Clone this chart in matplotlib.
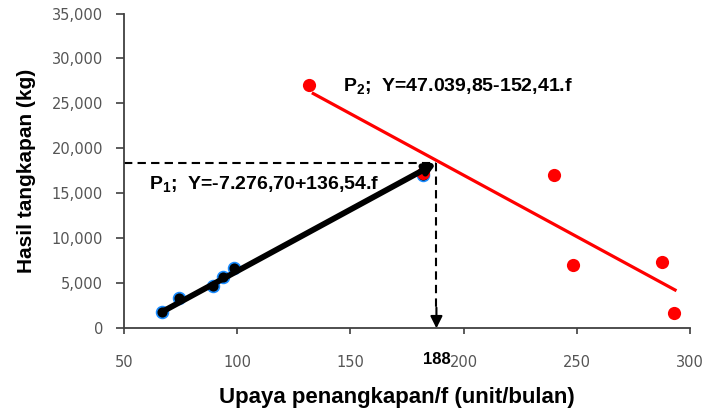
import matplotlib
matplotlib.use("Agg")
import matplotlib.pyplot as plt
from matplotlib.ticker import FuncFormatter
from matplotlib.transforms import ScaledTranslation

# ---- data ----
p1_effort = [66.6, 74.4, 89.2, 93.9, 98.7, 181.9]
p1_catch = [1850, 3350, 4650, 5700, 6750, 17050]

p2_effort = [131.8, 181.9, 240.1, 248.5, 287.5, 292.9]
p2_catch = [27100, 17300, 17030, 7030, 7330, 1670]

p1_line_f = [66.6, 188.0]
p1_line_y = [1800, 18390]

p2_line_f = [133.6, 293.4]
p2_line_y = [26100, 4260]

f_opt = 188.0
y_opt = 18390

x_ticks = [50, 100, 150, 200, 250, 300]
y_ticks = [0, 5000, 10000, 15000, 20000, 25000, 30000, 35000]

label_p1 = "P$_1$;  Y=-7.276,70+136,54.f"
label_p2 = "P$_2$;  Y=47.039,85-152,41.f"
xlabel = "Upaya penangkapan/f (unit/bulan)"
ylabel = "Hasil tangkapan (kg)"

plt.rcParams['font.family'] = ['Liberation Sans', 'DejaVu Sans']
plt.rcParams['mathtext.fontset'] = 'custom'
plt.rcParams['mathtext.rm'] = 'Liberation Sans:bold'
plt.rcParams['mathtext.it'] = 'Liberation Sans:bold'
plt.rcParams['mathtext.bf'] = 'Liberation Sans:bold'

W, H = 709, 413
fig = plt.figure(figsize=(W / 100, H / 100), dpi=100)
ax = fig.add_axes([124 / W, 1 - 328.3 / H, (690 - 124) / W, (328.3 - 13.5) / H])

ax.set_xlim(x_ticks[0], x_ticks[-1])
ax.set_ylim(y_ticks[0], y_ticks[-1])

# P1 series (blue markers under black arrow line)
ax.plot(p1_effort, p1_catch, 'o', ms=8.5, mfc='black', mec='#1a8cff', mew=1.2, zorder=3)
ax.annotate('', xy=(f_opt, y_opt), xytext=(p1_line_f[0], p1_line_y[0]),
            arrowprops=dict(arrowstyle='-|>', lw=4.2, color='black',
                            mutation_scale=15, shrinkA=0, shrinkB=0), zorder=4)

# P2 series
ax.plot(p2_line_f, p2_line_y, color='#ff0000', lw=2.3, zorder=2)
ax.plot(p2_effort, p2_catch, 'o', ms=9.5, color='#ff0000', mec='none', zorder=3.5)

# dashed guide lines
ax.plot([x_ticks[0], f_opt], [y_opt, y_opt], color='black', lw=1.5, dashes=(4, 2.5), zorder=2)
ax.plot([f_opt, f_opt], [y_opt, 2200], color='black', lw=1.5, dashes=(4, 2.5), zorder=2)
ax.annotate('', xy=(f_opt, 0), xytext=(f_opt, 2300),
            arrowprops=dict(arrowstyle='-|>', lw=1.5, color='black',
                            mutation_scale=18, shrinkA=0, shrinkB=0), zorder=4)


def px2data(px, py):
    fig.canvas.draw()
    return ax.transData.inverted().transform((px, H - py))


x2, y2 = px2data(343, 86)
ax.text(x2, y2, label_p2, fontsize=14, fontweight='bold', ha='left', va='center')
x1, y1 = px2data(149, 184)
ax.text(x1, y1, label_p1, fontsize=14, fontweight='bold', ha='left', va='center')

# spines and ticks
for s in ['top', 'right']:
    ax.spines[s].set_visible(False)
for s in ['left', 'bottom']:
    ax.spines[s].set_color('#404040')
    ax.spines[s].set_linewidth(1.3)

ax.set_xticks(x_ticks)
ax.set_yticks(y_ticks)
ax.yaxis.set_major_formatter(FuncFormatter(lambda v, p: f"{int(v):,}"))
ax.tick_params(axis='y', direction='out', length=6, width=1.2, color='#404040',
               labelsize=10.5, labelcolor='#555555', pad=9)
ax.tick_params(axis='x', direction='out', length=4, width=1.2, color='#404040',
               labelsize=10.5, labelcolor='#555555', pad=15)
for lab in ax.get_xticklabels() + ax.get_yticklabels():
    lab.set_family('DejaVu Sans')

# 188 label, same row as tick labels
ax.text(f_opt, 0, "188", fontsize=12, fontweight='bold', ha='center', va='center',
        transform=ax.get_xaxis_transform() + ScaledTranslation(0, -31 / 100, fig.dpi_scale_trans))

fig.text(397 / W, 1 - 397 / H, xlabel, fontsize=16, fontweight='bold', ha='center', va='center')
fig.text(27 / W, 1 - 171 / H, ylabel, fontsize=15, fontweight='bold', ha='center', va='center',
         rotation=90)

fig.savefig("out.png", dpi=100)
